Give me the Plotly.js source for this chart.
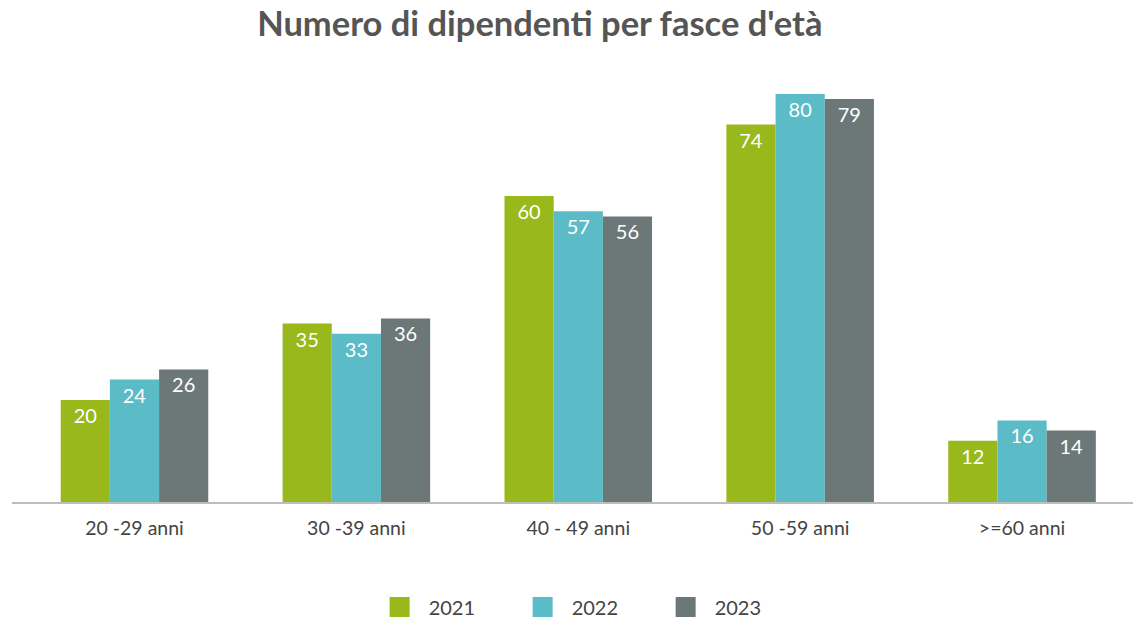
<!DOCTYPE html>
<html>
<head>
<meta charset="utf-8">
<script src="https://cdn.plot.ly/plotly-3.0.1.min.js"></script>
<style>html,body{margin:0;padding:0;background:#fff;}#chart{width:1134px;height:620px;}</style>
</head>
<body>
<div id="chart"></div>
<script>
const categories = ["20 -29 anni", "30 -39 anni", "40 - 49 anni", "50 -59 anni", ">=60 anni"];
const years = ["2021", "2022", "2023"];
const values2021 = [20, 35, 60, 74, 12];
const values2022 = [24, 33, 57, 80, 16];
const values2023 = [26, 36, 56, 79, 14];
const colors = ["#98b81c", "#5bbcc7", "#6c7878"];

const series = [values2021, values2022, values2023];
const barTraces = series.map((vals, i) => ({
  type: "bar",
  name: years[i],
  legendgroup: years[i],
  showlegend: false,
  x: categories,
  y: vals,
  text: vals.map(String),
  textposition: "inside",
  insidetextanchor: "end",
  textangle: 0,
  textfont: {family: "Lato, sans-serif", size: 20, color: "#ffffff"},
  marker: {color: colors[i], line: {width: 0}},
  hoverinfo: "x+y+name"
}));
// legend-only entries (bigger square swatches)
const legendTraces = years.map((yr, i) => ({
  type: "scatter",
  mode: "markers",
  name: yr,
  legendgroup: yr,
  x: [null],
  y: [null],
  marker: {symbol: "square", size: 16, color: colors[i], line: {color: colors[i], width: 4}},
  hoverinfo: "skip"
}));

const layout = {
  width: 1134,
  height: 620,
  paper_bgcolor: "#ffffff",
  plot_bgcolor: "#ffffff",
  margin: {l: 12, r: 1, t: 80, b: 118},
  title: {
    text: "<b>Numero di dipendenti per fasce d'età</b>",
    font: {family: "Lato, sans-serif", size: 34.5, color: "#555555", weight: 900},
    x: 0.476, xref: "container", xanchor: "center",
    y: 0.962, yref: "container", yanchor: "middle"
  },
  barmode: "group",
  bargap: 0.335,
  bargroupgap: 0,
  xaxis: {
    type: "category",
    range: [-0.552, 4.5],
    showline: true,
    linecolor: "#bdbdbd",
    linewidth: 2,
    ticks: "",
    showgrid: false,
    tickfont: {family: "Lato, sans-serif", size: 19.5, color: "#444444"},
    ticklabelstandoff: 8,
    automargin: false
  },
  yaxis: {
    range: [0, 82.75],
    visible: false,
    showgrid: false,
    zeroline: false
  },
  legend: {
    orientation: "h",
    x: 0.516, xanchor: "center", xref: "container",
    y: 0.021, yanchor: "middle", yref: "container",
    font: {family: "Lato, sans-serif", size: 20, color: "#444444"},
    entrywidth: 80,
    entrywidthmode: "pixels",
    itemwidth: 48,
    itemsizing: "trace"
  },
  showlegend: true
};

Plotly.newPlot("chart", barTraces.concat(legendTraces), layout, {displayModeBar: false});
</script>
</body>
</html>
